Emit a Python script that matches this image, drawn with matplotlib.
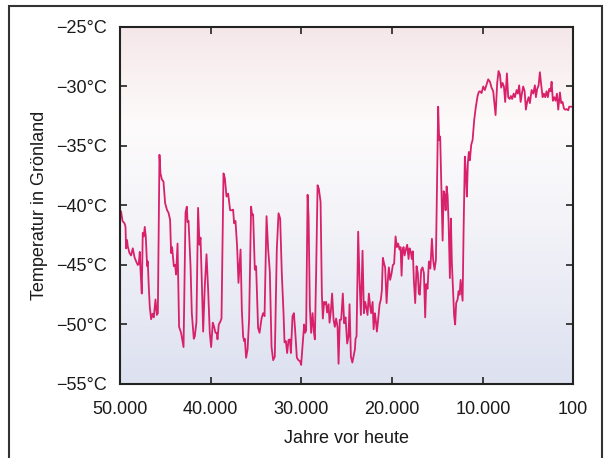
import numpy as np
import matplotlib.pyplot as plt
from matplotlib.colors import LinearSegmentedColormap
from matplotlib.patches import Rectangle

plt.rcParams['font.family'] = ['Liberation Sans', 'DejaVu Sans']

# Jahre vor heute und Temperatur (°C)
jahre = [50000, 49860, 49700, 49480, 49370, 49310, 49200, 49120, 48930, 48760,
         48570, 48380, 48200, 48020, 47910, 47800, 47720, 47580, 47470, 47360,
         47250, 47140, 46990, 46920, 46810, 46700, 46550, 46400, 46260, 46070,
         45920, 45810, 45630, 45520, 45370, 45190, 45010, 44790, 44640, 44460,
         44350, 44240, 44050, 43910, 43800, 43640, 43470, 43250, 42980, 42760,
         42620, 42540, 42430, 42210, 42070, 41850, 41740, 41560, 41380, 41220,
         41110, 40930, 40820, 40640, 40450, 40270, 40090, 39940, 39760, 39610,
         39460, 39320, 39240, 39100, 38950, 38800, 38580, 38430, 38250, 38070,
         37850, 37630, 37520, 37410, 37260, 37080, 36930, 36810, 36700, 36560,
         36420, 36310, 36230, 36090, 35930, 35760, 35540, 35430, 35320, 35130,
         34990, 34770, 34610, 34390, 34220, 34060, 33840, 33660, 33480, 33290,
         33110, 32930, 32710, 32520, 32340, 32160, 31970, 31860, 31710, 31570,
         31420, 31270, 31160, 30980, 30830, 30690, 30500, 30320, 30140, 30030,
         29880, 29700, 29590, 29480, 29320, 29210, 29070, 28930, 28770, 28630,
         28520, 28380, 28220, 28080, 27890, 27750, 27640, 27500, 27390, 27280,
         27170, 27010, 26900, 26760, 26620, 26460, 26320, 26180, 26020, 25910,
         25770, 25620, 25440, 25290, 25140, 24960, 24810, 24700, 24550, 24390,
         24260, 24110, 24040, 23930, 23750, 23600, 23450, 23270, 23120, 22980,
         22870, 22720, 22570, 22430, 22320, 22160, 22050, 21910, 21800, 21690,
         21550, 21390, 21250, 21140, 21030, 20890, 20780, 20620, 20480, 20370,
         20230, 20070, 19930, 19790, 19630, 19490, 19350, 19190, 19080, 18970,
         18860, 18750, 18640, 18500, 18350, 18200, 18090, 17950, 17840, 17730,
         17620, 17470, 17320, 17180, 17070, 16960, 16810, 16660, 16510, 16370,
         16260, 16110, 15960, 15800, 15630, 15490, 15340, 15190, 15080, 14940,
         14830, 14720, 14560, 14450, 14340, 14230, 14120, 14010, 13900, 13790,
         13650, 13540, 13430, 13290, 13180, 13070, 12960, 12800, 12690, 12580,
         12470, 12360, 12250, 12140, 12000, 11890, 11780, 11670, 11560, 11450,
         11300, 11150, 10970, 10790, 10600, 10460, 10350, 10160, 9980, 9800,
         9610, 9430, 9240, 9060, 8880, 8620, 8440, 8290, 8140, 8000,
         7850, 7700, 7560, 7370, 7230, 7070, 6930, 6790, 6630, 6490,
         6300, 6160, 6020, 5860, 5720, 5580, 5420, 5280, 5140, 4980,
         4840, 4650, 4470, 4290, 4180, 4030, 3880, 3740, 3590, 3440,
         3300, 3150, 3000, 2860, 2710, 2560, 2450, 2310, 2160, 2010,
         1860, 1720, 1530, 1390, 1240, 1090, 950, 800, 620, 510, 270]
temp = [-40.4, -40.5, -41.3, -41.5, -41.8, -43.6, -42.9, -43.45, -44.0, -44.2,
        -43.6, -44.35, -44.7, -45.0, -44.9, -43.9, -45.4, -47.4, -42.3, -42.6,
        -41.8, -42.6, -45.1, -44.7, -46.8, -48.5, -49.56, -49.1, -49.4, -47.9,
        -49.2, -49.05, -35.74, -37.3, -37.8, -38.0, -39.8, -40.4, -40.6, -41.2,
        -44.0, -43.5, -45.1, -45.0, -45.8, -43.2, -50.2, -50.7, -51.9, -40.6,
        -40.1, -41.4, -41.3, -45.1, -49.05, -51.2, -51.0, -49.8, -40.2, -43.3,
        -42.7, -47.4, -50.6, -46.8, -44.1, -47.1, -50.7, -51.9, -49.85, -50.2,
        -50.7, -50.7, -51.25, -50.0, -49.8, -49.5, -37.3, -37.7, -39.25, -39.0,
        -40.4, -40.4, -40.35, -41.5, -41.3, -43.45, -46.5, -45.1, -43.7, -48.8,
        -51.0, -51.4, -51.2, -52.8, -52.1, -49.6, -40.1, -40.8, -40.75, -45.4,
        -45.1, -50.3, -50.7, -49.5, -49.05, -49.3, -40.9, -43.7, -45.55, -51.9,
        -53.0, -52.7, -43.7, -40.65, -41.1, -45.7, -49.05, -51.5, -51.4, -52.4,
        -51.3, -51.25, -52.4, -49.3, -49.05, -50.5, -52.8, -53.0, -53.1, -53.4,
        -51.9, -50.0, -50.7, -50.5, -39.1, -41.0, -48.5, -50.7, -49.05, -50.6,
        -51.25, -45.7, -38.3, -38.6, -39.7, -47.4, -49.5, -48.1, -48.3, -48.1,
        -49.0, -48.3, -49.85, -48.9, -47.4, -49.6, -50.2, -49.5, -50.2, -53.3,
        -49.6, -49.6, -47.4, -49.9, -49.4, -51.6, -51.0, -48.3, -52.7, -53.2,
        -52.7, -52.1, -51.2, -51.0, -42.2, -46.25, -49.2, -43.8, -49.05, -48.1,
        -48.5, -49.2, -47.4, -48.5, -49.05, -48.1, -50.4, -49.05, -49.7, -50.6,
        -49.6, -48.3, -47.9, -47.1, -44.4, -44.9, -45.2, -48.2, -46.25, -45.2,
        -46.25, -45.7, -45.0, -44.9, -42.6, -43.5, -43.2, -43.7, -43.5, -45.9,
        -43.7, -43.5, -44.2, -43.7, -43.3, -44.5, -43.6, -43.9, -44.5, -43.85,
        -46.25, -48.2, -45.1, -45.7, -47.4, -47.5, -45.4, -45.2, -45.7, -49.4,
        -46.6, -47.0, -44.7, -45.3, -42.8, -44.6, -45.4, -44.6, -38.7, -31.7,
        -34.5, -34.2, -39.5, -42.95, -38.8, -39.1, -40.4, -38.4, -39.2, -41.5,
        -46.1, -41.1, -44.85, -47.4, -49.3, -50.0, -48.2, -47.9, -47.2, -47.5,
        -46.25, -47.1, -48.0, -42.05, -35.9, -37.3, -39.25, -36.4, -35.5, -36.2,
        -34.9, -34.5, -32.8, -31.7, -30.8, -30.45, -30.4, -30.55, -30.0, -30.3,
        -29.85, -29.4, -29.6, -30.1, -30.4, -32.4, -29.7, -28.7, -29.0, -30.1,
        -29.7, -30.0, -31.3, -28.9, -30.9, -31.05, -30.8, -31.05, -30.6, -30.9,
        -30.3, -30.6, -29.9, -31.3, -30.6, -30.0, -30.4, -31.95, -31.3, -30.9,
        -31.4, -30.3, -30.6, -29.9, -30.9, -30.2, -29.9, -28.8, -29.9, -30.9,
        -30.6, -30.9, -30.4, -30.9, -30.2, -30.4, -29.6, -31.2, -30.9, -31.2,
        -30.6, -31.95, -30.5, -31.4, -31.3, -31.85, -31.95, -31.9, -32.0, -31.7, -31.7]

xticks = [50000, 40000, 30000, 20000, 10000, 100]
xlabels = ["50.000", "40.000", "30.000", "20.000", "10.000", "100"]
yticks = [-55, -50, -45, -40, -35, -30, -25]
ylabels = ["\u221255°C", "\u221250°C", "\u221245°C", "\u221240°C",
           "\u221235°C", "\u221230°C", "\u221225°C"]

fig = plt.figure(figsize=(6.05, 4.58), dpi=100)
ax = fig.add_axes([0.198, 0.1616, 0.749, 0.7795])

# Hintergrund-Verlauf: unten blaeulich, oben rosa
cmap = LinearSegmentedColormap.from_list(
    "bg", [(0.0, "#dde1f0"), (0.45, "#f3f3f8"), (0.72, "#fdfbfb"), (1.0, "#f5e7e9")])
grad = np.linspace(0, 1, 256).reshape(-1, 1)
ax.imshow(grad, extent=[50000, 100, -55, -25], origin="lower", aspect="auto",
          cmap=cmap, zorder=0)

ax.plot(jahre, temp, color="#d8216a", lw=1.3, zorder=2)

ax.set_xlim(50000, 100)
ax.set_ylim(-55, -25)
ax.set_xticks(xticks)
ax.set_xticklabels(xlabels, fontsize=13)
ax.set_yticks(yticks)
ax.set_yticklabels(ylabels, fontsize=13)
ax.tick_params(direction="in", length=5, width=1.2, top=True, right=True,
               colors="#222222", labelcolor="#1a1a1a")
ax.tick_params(axis="x", pad=12)
ax.tick_params(axis="y", pad=9)
for s in ax.spines.values():
    s.set_linewidth(1.5)
    s.set_color("#222222")

ax.set_xlabel("Jahre vor heute", fontsize=13, labelpad=9, color="#1a1a1a")
ax.set_ylabel("Temperatur in Grönland", fontsize=13, labelpad=6, color="#1a1a1a")

# Rahmen um die Grafik
fig.patches.append(Rectangle((8.5 / 605, -0.05), 593 / 605, 1.05 - 6 / 458,
                             transform=fig.transFigure, fill=False,
                             edgecolor="#333333", lw=1.5))

plt.savefig("out.png", dpi=100)
